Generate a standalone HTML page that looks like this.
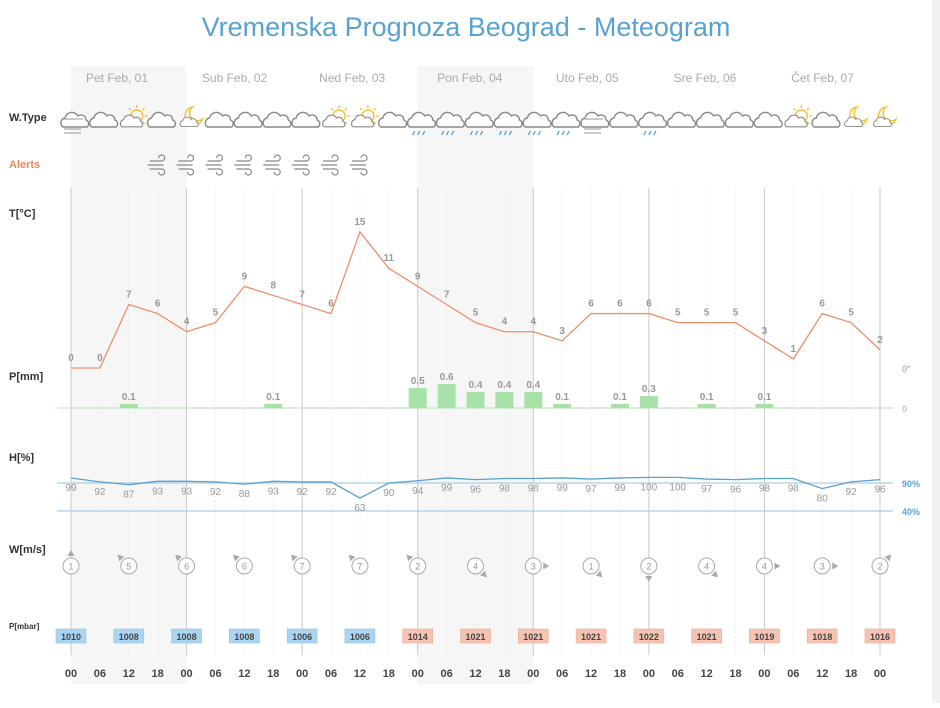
<!DOCTYPE html>
<html><head><meta charset="utf-8">
<style>
html,body{margin:0;padding:0;background:#fff;}
body{width:940px;height:703px;overflow:hidden;position:relative;font-family:"Liberation Sans",sans-serif;}
svg text{font-family:"Liberation Sans",sans-serif;}
</style></head>
<body>
<svg id="chart" width="940" height="703" viewBox="0 0 940 703" xmlns="http://www.w3.org/2000/svg">
<rect x="932" y="0" width="8" height="703" fill="#f1f1f1"/>
<text x="466" y="36" text-anchor="middle" font-size="27" fill="#5aa2cf">Vremenska Prognoza Beograd - Meteogram</text>
<g id="bands"></g>
<g id="grid"></g>
<text x="9" y="121" font-size="11" font-weight="bold" fill="#333">W.Type</text>
<text x="9" y="168" font-size="11" font-weight="bold" fill="#e8865e">Alerts</text>
<text x="9" y="217" font-size="11" font-weight="bold" fill="#333">T[°C]</text>
<text x="9" y="380" font-size="11" font-weight="bold" fill="#333">P[mm]</text>
<text x="9" y="461" font-size="11" font-weight="bold" fill="#333">H[%]</text>
<text x="9" y="553" font-size="11" font-weight="bold" fill="#333">W[m/s]</text>
<text x="9" y="629" font-size="8" font-weight="bold" fill="#333">P[mbar]</text>
<text x="902" y="372" font-size="9" fill="#999">0°</text>
<text x="902" y="412" font-size="9" font-weight="bold" fill="#9ddf9d">0</text>
<text x="902" y="487" font-size="9" font-weight="bold" fill="#5aa2cf">90%</text>
<text x="902" y="515" font-size="9" font-weight="bold" fill="#5aa2cf">40%</text>
<g id="marks"></g>
</svg>
<script>
const timeLabels=["00","06","12","18","00","06","12","18","00","06","12","18","00","06","12","18","00","06","12","18","00","06","12","18","00","06","12","18","00"];
const dayLabels=["Pet Feb, 01","Sub Feb, 02","Ned Feb, 03","Pon Feb, 04","Uto Feb, 05","Sre Feb, 06","Čet Feb, 07"];
const temps=[0,0,7,6,4,5,9,8,7,6,15,11,9,7,5,4,4,3,6,6,6,5,5,5,3,1,6,5,2];
const precip=[0,0,0.1,0,0,0,0,0.1,0,0,0,0,0.5,0.6,0.4,0.4,0.4,0.1,0,0.1,0.3,0,0.1,0,0.1,0,0,0,0];
const humidity=[99,92,87,93,93,92,88,93,92,92,63,90,94,99,96,98,98,99,97,99,100,100,97,96,98,98,80,92,96];
const windSpeed=[1,5,6,6,7,7,2,4,3,1,2,4,4,3,2];
const windDir=[0,315,315,315,315,315,315,135,90,135,180,135,90,90,45];
const pressure=[1010,1008,1008,1008,1006,1006,1014,1021,1021,1021,1022,1021,1019,1018,1016];
const wtypes=["fog","cloud","sun","cloud","moon","cloud","cloud","cloud","cloud","sun","sun","cloud","rain","rain","rain","rain","rain","drizzle","fog","cloud","drizzle","cloud","cloud","cloud","cloud","sun","cloud","moon","moon"];
const alertIdx=[3,4,5,6,7,8,9,10];

const NS="http://www.w3.org/2000/svg";
const X0=71, DX=(880-71)/28;
const xAt=i=>X0+i*DX;
const yT=t=>368-t*9.07;
const yP=p=>408-p*40;
const yH=h=>483+(90-h)*0.56;
function mk(tag,attrs,parent){const e=document.createElementNS(NS,tag);for(const k in attrs)e.setAttribute(k,attrs[k]);parent.appendChild(e);return e;}
const bands=document.getElementById('bands'),grid=document.getElementById('grid'),marks=document.getElementById('marks');

[0,12].forEach(i=>{
  const r=mk('rect',{x:xAt(i),y:66,width:xAt(i+4)-xAt(i),height:618,fill:'#f6f6f6'},bands);
  
  
});
for(let i=0;i<29;i++){
  const major=i%4===0;
  const l=mk('line',{x1:xAt(i),x2:xAt(i),y1:188,y2:655,stroke:major?'#c8c8c8':'#eeeeee','stroke-width':1,'stroke-dasharray':major?'none':'2,2'},grid);
  
  
  const t=mk('text',{x:xAt(i),y:677,'text-anchor':'middle','font-size':11,'font-weight':'bold',fill:'#444'},marks);
  t.textContent=timeLabels[i];
  
  
}
dayLabels.forEach((d,k)=>{
  const t=mk('text',{x:117+k*DX*4.07,y:82,'text-anchor':'middle','font-size':12,fill:'#aaa'},marks);
  t.textContent=d;
  
  
});
[[408,'#bfeabf'],[483,'#a9cde6'],[511,'#a9cde6']].forEach(([y,c])=>{
  const l=mk('line',{x1:57,x2:893,y1:y,y2:y,stroke:c,'stroke-width':1.2},grid);
  
  
});
function cloud(g,cx,cy,s,col){
  mk('path',{d:`M${cx-12*s},${cy+6*s} a5 5 0 0 1 2,-9 a7 7 0 0 1 13,-2 a5 5 0 0 1 8,4 a4 4 0 0 1 1,7 z`,fill:'#fff',stroke:col||'#888','stroke-width':1.4,transform:s!==1?`translate(${cx*(1-s)},${cy*(1-s)}) scale(${s})`:''},g);
}
wtypes.forEach((w,i)=>{
  const g=mk('g',{},marks);
  
  
  const cx=xAt(i)+4,cy=121;
  if(w==='sun'){
    mk('circle',{cx:cx+4,cy:cy-5,r:6,fill:'none',stroke:'#f2c230','stroke-width':1.4},g);
    for(let a=0;a<8;a++){const r=a*Math.PI/4;mk('line',{x1:cx+4+Math.cos(r)*8,y1:cy-5+Math.sin(r)*8,x2:cx+4+Math.cos(r)*11,y2:cy-5+Math.sin(r)*11,stroke:'#f2c230','stroke-width':1.3},g);}
    cloud(g,cx-3,cy+2,0.8);
  } else if(w==='moon'){
    mk('path',{d:`M${cx+2},${cy-14} a9 9 0 1 0 10,12 a7 7 0 0 1 -10,-12 z`,fill:'#fff',stroke:'#f2c230','stroke-width':1.4},g);
    cloud(g,cx-4,cy+3,0.65);
  } else {
    cloud(g,cx,cy,1);
    if(w==='fog'){[8,12].forEach(d=>mk('line',{x1:cx-11,x2:cx+6,y1:cy+d,y2:cy+d,stroke:'#aaa','stroke-width':1.2},g));mk('line',{x1:cx-12,x2:cx+8,y1:cy-2,y2:cy-2,stroke:'#aaa','stroke-width':1.2},g);}
    if(w==='rain'||w==='drizzle'){[-7,-2,3].forEach(d=>mk('line',{x1:cx+d,y1:cy+10,x2:cx+d-2,y2:cy+14,stroke:'#4f9bd6','stroke-width':1.3},g));}
  }
});
alertIdx.forEach(i=>{
  const g=mk('g',{fill:'none',stroke:'#888','stroke-width':1.2},marks);
  
  
  const cx=xAt(i)+2,cy=164;
  mk('path',{d:`M${cx-10},${cy-3} h12 a3 3 0 1 0 -3,-3 M${cx-12},${cy+1} h16 M${cx-10},${cy+5} h12 a3 3 0 1 1 -3,3`},g);
});
const tp=temps.map((t,i)=>xAt(i)+','+yT(t)).join(' ');
const tl=mk('polyline',{points:tp,fill:'none',stroke:'#ef8e6a','stroke-width':1.3},marks);


temps.forEach((t,i)=>{
  const e=mk('text',{x:xAt(i),y:yT(t)-7,'text-anchor':'middle','font-size':10,'font-weight':'bold',fill:'#999'},marks);
  e.textContent=t;
  
  
});
precip.forEach((p,i)=>{
  if(p<=0)return;
  const b=mk('rect',{x:xAt(i)-9,y:yP(p),width:18,height:408-yP(p),fill:'#a8e2a8'},marks);
  
  
  const e=mk('text',{x:xAt(i),y:yP(p)-4,'text-anchor':'middle','font-size':10,'font-weight':'bold',fill:'#999'},marks);
  e.textContent=p;
  
  
});
const hl=mk('polyline',{points:humidity.map((h,i)=>xAt(i)+','+yH(h)).join(' '),fill:'none',stroke:'#5e9fcc','stroke-width':1.3},marks);


humidity.forEach((h,i)=>{
  const e=mk('text',{x:xAt(i),y:yH(h)+13,'text-anchor':'middle','font-size':10,fill:'#999'},marks);
  e.textContent=h;
  
  
});
windSpeed.forEach((w,k)=>{
  const x=xAt(k*2),y=566;
  const g=mk('g',{},marks);
  
  
  mk('circle',{cx:x,cy:y,r:8,fill:'#fff',stroke:'#aaa','stroke-width':1},g);
  const t=mk('text',{x:x,y:y+3.5,'text-anchor':'middle','font-size':9,fill:'#999'},g);
  t.textContent=w;
  mk('path',{d:`M${x-3.5},${y-10} L${x},${y-16} L${x+3.5},${y-10} z`,fill:'#aaa',transform:`rotate(${windDir[k]} ${x} ${y})`},g);
  const pr=pressure[k];
  const b=mk('rect',{x:x-15,y:629,width:30,height:14,fill:k<6?'#a9d5f2':'#f6c3b2',stroke:k<6?'#8fc3e6':'#e8aa96','stroke-width':0.6},marks);
  
  
  const pt=mk('text',{x:x,y:640,'text-anchor':'middle','font-size':9,'font-weight':'bold',fill:'#444'},marks);
  pt.textContent=pr;
  
  
});
</script>
</body></html>
